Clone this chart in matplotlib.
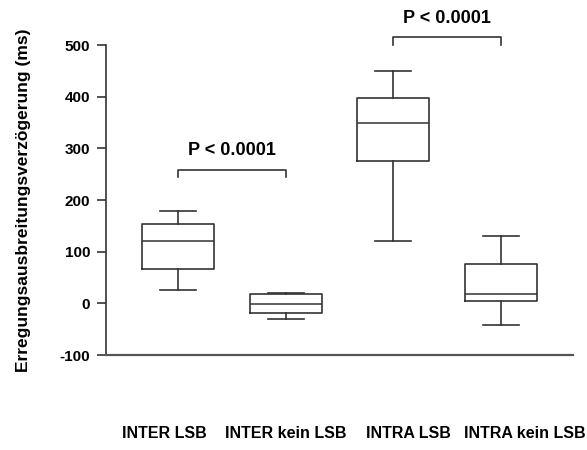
import matplotlib
matplotlib.use("Agg")
import matplotlib.pyplot as plt

plt.rcParams['font.family'] = ['Liberation Sans', 'DejaVu Sans']
plt.rcParams['font.weight'] = 'bold'
plt.rcParams['axes.unicode_minus'] = False

# box plot summary values (ms)
groups = ["INTER LSB", "INTER kein LSB", "INTRA LSB", "INTRA kein LSB"]
whislo = [25, -31, 120, -41]
q1 = [67, -18, 276, 4]
med = [120, -2, 350, 18]
q3 = [153, 18, 398, 76]
whishi = [179, 20, 450, 131]

# significance brackets: (group a, group b, bar height, text)
brackets = [(1, 2, 259, "P < 0.0001"), (3, 4, 515, "P < 0.0001")]

line_col = "#333333"

fig = plt.figure(figsize=(5.87, 4.5), dpi=100)
ax = fig.add_axes([0.1806, 0.2111, 0.7954, 0.6889])

stats = []
for i, g in enumerate(groups):
    stats.append(dict(label=g, whislo=whislo[i], q1=q1[i], med=med[i],
                      q3=q3[i], whishi=whishi[i], fliers=[]))

pos = [1, 2, 3, 4]
lp = dict(color=line_col, linewidth=1.2)
ax.bxp(stats, positions=pos, widths=0.668, showfliers=False,
       boxprops=lp, whiskerprops=lp, capprops=lp,
       medianprops=dict(color=line_col, linewidth=1.1))

ax.set_xlim(0.331, 4.669)
ax.set_ylim(-100, 500)
ax.set_yticks([-100, 0, 100, 200, 300, 400, 500])
ax.tick_params(axis='y', length=6.5, width=1.2, color=line_col, labelsize=11, pad=5)
for t in ax.get_yticklabels():
    t.set_fontweight('bold')

# category labels sit well below the axis
ax.set_xticks(pos)
ax.set_xticklabels([])
ax.tick_params(axis='x', length=0)
label_shift = [-0.13, 0.0, 0.14, 0.22]
for i, g in enumerate(groups):
    ax.text(pos[i] + label_shift[i], -252, g, ha='center', va='center',
            fontsize=11.5, fontweight='bold', clip_on=False)

ax.set_ylabel("Erregungsausbreitungsverzögerung (ms)", fontsize=12.5,
              fontweight='bold')
ax.yaxis.set_label_coords(-0.16, 0.5)

for side in ['top', 'right']:
    ax.spines[side].set_visible(False)
ax.spines['left'].set_color(line_col)
ax.spines['left'].set_linewidth(1.2)
ax.spines['bottom'].set_color("#555555")
ax.spines['bottom'].set_linewidth(1.6)

for a, b, h, txt in brackets:
    ax.plot([a, a, b, b], [h - 15, h, h, h - 15], color=line_col,
            linewidth=1.2, clip_on=False)
    ax.text((a + b) / 2, h + 37, txt, ha='center', va='center',
            fontsize=13, fontweight='bold', clip_on=False)

fig.savefig("out.png", dpi=100)
